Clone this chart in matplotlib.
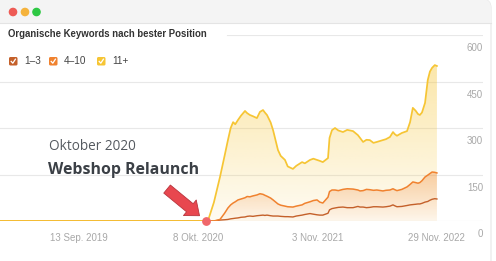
import numpy as np
import pandas as pd
import matplotlib
matplotlib.use("Agg")
import matplotlib.pyplot as plt
import matplotlib.dates as mdates
from matplotlib.colors import to_rgb
from matplotlib.patches import FancyBboxPatch, Rectangle, Circle

# --- data ---
dates = pd.to_datetime([
    "2018-12-28", "2020-11-02", "2020-11-09", "2020-11-28", "2020-12-18",
    "2021-01-02", "2021-01-13", "2021-01-22", "2021-01-30", "2021-02-06",
    "2021-02-15", "2021-02-25", "2021-03-10", "2021-03-17", "2021-03-26",
    "2021-04-05", "2021-04-18", "2021-04-28", "2021-05-08", "2021-05-14",
    "2021-05-21", "2021-06-02", "2021-06-10", "2021-06-26", "2021-07-05",
    "2021-07-19", "2021-07-28", "2021-08-14", "2021-08-25", "2021-09-13",
    "2021-09-22", "2021-10-09", "2021-10-20", "2021-11-01", "2021-11-10",
    "2021-11-20", "2021-12-07", "2021-12-12", "2021-12-20", "2021-12-30",
    "2022-01-10", "2022-01-25", "2022-02-08", "2022-02-27", "2022-03-15",
    "2022-03-22", "2022-04-01", "2022-04-12", "2022-04-23", "2022-05-05",
    "2022-05-16", "2022-06-05", "2022-06-15", "2022-06-28", "2022-07-08",
    "2022-07-14", "2022-07-21", "2022-08-06", "2022-08-23", "2022-09-02",
    "2022-09-11", "2022-09-20", "2022-09-28", "2022-10-04", "2022-10-11",
    "2022-10-21", "2022-10-30", "2022-11-06", "2022-11-13", "2022-11-22",
    "2022-11-29",
])
pos_11_plus = [0, 0, 2, 60, 142,
               210, 261, 300, 319, 312,
               326, 340, 355, 348, 342,
               338, 332, 352, 358, 350,
               342, 318, 293, 229, 210,
               197, 176, 168, 178, 190,
               186, 197, 201, 197, 194,
               190, 203, 268, 293, 300,
               292, 287, 294, 290, 277,
               268, 255, 262, 261, 252,
               255, 261, 264, 271, 287,
               280, 275, 284, 290, 319,
               365, 356, 345, 342, 350,
               381, 455, 482, 494, 503,
               500]
pos_4_10 = [0, 0, 0, 0, 5,
            25, 42, 52, 58, 62,
            68, 71, 75, 79, 78,
            81, 84, 88, 86, 83,
            80, 74, 68, 55, 51,
            48, 46, 45, 48, 52,
            57, 62, 66, 68, 61,
            58, 77, 95, 100, 100,
            98, 102, 104, 103, 100,
            97, 98, 102, 101, 99,
            100, 97, 99, 100, 104,
            101, 98, 102, 110, 118,
            126, 124, 122, 124, 130,
            142, 148, 153, 158, 157,
            155]
pos_1_3 = [0, 0, 0, 0, 3,
           4, 5, 7, 8, 9,
           10, 12, 13, 15, 16,
           15, 17, 18, 19, 18,
           19, 17, 16, 16, 15,
           14, 14, 13, 16, 19,
           21, 24, 22, 20, 19,
           19, 25, 36, 40, 42,
           44, 45, 43, 43, 47,
           45, 45, 43, 44, 46,
           46, 45, 46, 48, 52,
           49, 46, 47, 50, 52,
           53, 54, 55, 55, 57,
           61, 63, 67, 70, 72,
           71]
series_labels = ["1–3", "4–10", "11+"]
series_colors = ["#c4602a", "#f0822f", "#f6c534"]
tick_dates = pd.to_datetime(["2019-09-13", "2020-10-08", "2021-11-03", "2022-11-29"])
tick_labels = ["13 Sep. 2019", "8 Okt. 2020", "3 Nov. 2021", "29 Nov. 2022"]
y_ticks = [0, 150, 300, 450, 600]
relaunch_date = pd.Timestamp("2020-11-02")

W, H = 496, 261
fig = plt.figure(figsize=(W / 100, H / 100), dpi=100)
fig.patch.set_facecolor("white")

# window chrome in pixel coordinates
bg = fig.add_axes([0, 0, 1, 1], zorder=-1)
bg.set_xlim(0, W)
bg.set_ylim(H, 0)
bg.axis("off")
win = FancyBboxPatch((-12, -1), 503, 300, boxstyle="round,pad=0,rounding_size=9",
                     facecolor="white", edgecolor="#e6e6e6", lw=0.8)
bg.add_patch(win)
bar = Rectangle((-12, -1), 503, 23.5, facecolor="#f4f4f4", edgecolor="none")
bar.set_clip_path(win)
bg.add_patch(bar)
bg.plot([0, 491], [22.5, 22.5], color="#e4e4e4", lw=0.8)
for cx, c in zip([13, 25, 36.5], ["#ee5b55", "#f5b33c", "#2ec844"]):
    bg.add_patch(Circle((cx, 12), 3.6, color=c))

fig.text(8 / W, 1 - 34 / H, "Organische Keywords nach bester Position",
         fontsize=6.9, fontweight="bold", color="#333333", va="center",
         family="Liberation Sans")

# legend
for i, (lab, col) in enumerate(zip(series_labels, series_colors)):
    x0 = [9, 49, 97][i]
    bg.add_patch(FancyBboxPatch((x0, 57), 8.5, 8.5, boxstyle="round,pad=0,rounding_size=1.5",
                                facecolor=col, edgecolor="none"))
    bg.plot([x0 + 2.2, x0 + 3.8, x0 + 6.4], [61.4, 63.2, 59.2], color="white", lw=0.9)
    bg.text(x0 + 15, 61.3, lab, fontsize=7.2, color="#444444", va="center",
            family="Liberation Sans")

# chart axes
ax = fig.add_axes([0, (H - 221) / H, 483 / W, (221 - 35) / H])
ax.set_facecolor("none")
for s in ax.spines.values():
    s.set_visible(False)

xnum = mdates.date2num(dates)
xlim = (mdates.date2num(pd.Timestamp("2018-12-28")), mdates.date2num(pd.Timestamp("2023-04-29")))


def gradient_fill(x, y, color, a_top, a_bot, z):
    poly = ax.fill_between(x, y, 0, facecolor="none", edgecolor="none")
    img = np.zeros((100, 1, 4))
    img[:, :, :3] = to_rgb(color)
    img[:, 0, 3] = np.linspace(a_bot, a_top, 100)
    im = ax.imshow(img, aspect="auto", origin="lower", zorder=z,
                   extent=[x[0], x[-1], 0, max(y)])
    im.set_clip_path(poly.get_paths()[0], ax.transData)


gradient_fill(xnum, pos_11_plus, series_colors[2], 0.42, 0.06, 1)
gradient_fill(xnum, pos_4_10, series_colors[1], 0.35, 0.04, 2)

for v in y_ticks:
    xmin = 227 / 483 if v == 600 else 0
    ax.axhline(v, xmin=xmin, color="#e8e8e8", lw=0.8, zorder=0)
    ax.annotate(str(v), xy=(1, v), xycoords=("axes fraction", "data"),
                xytext=(0, -9.6), textcoords="offset points", ha="right", va="center",
                fontsize=7, color="#a8a8a8", family="Liberation Sans")

ax.plot(xnum, pos_1_3, color=series_colors[0], lw=1.0, zorder=4)
ax.plot(xnum, pos_4_10, color=series_colors[1], lw=1.1, zorder=5)
ax.plot(xnum, pos_11_plus, color=series_colors[2], lw=1.25, zorder=6)

ax.set_xlim(*xlim)
ax.set_ylim(0, 600)
ax.set_yticks([])
ax.set_xticks(mdates.date2num(tick_dates))
ax.set_xticklabels(tick_labels, fontsize=7, color="#a8a8a8", family="Liberation Sans")
ax.tick_params(axis="x", length=0, pad=8.5)

# relaunch marker
rx = mdates.date2num(relaunch_date)
ax.scatter([rx], [0], s=28, color="#f0676b", zorder=8, clip_on=False)
ax.annotate("", xy=(rx, 0), xytext=(-28, 23), textcoords="offset points",
            arrowprops=dict(arrowstyle="simple,head_length=0.9,head_width=1.45,tail_width=0.75",
                            fc="#e8474f", ec="#b8343c", lw=0.6, shrinkA=0, shrinkB=6),
            zorder=9)
fig.text(49 / W, 1 - 146 / H, "Oktober 2020", fontsize=9.8, color="#555a60",
         va="center", family=["Open Sans", "DejaVu Sans"])
fig.text(48 / W, 1 - 170 / H, "Webshop Relaunch", fontsize=11.4, color="#3b4046",
         va="center", fontweight="bold", family=["Open Sans", "DejaVu Sans"])

fig.savefig("out.png", dpi=100)
